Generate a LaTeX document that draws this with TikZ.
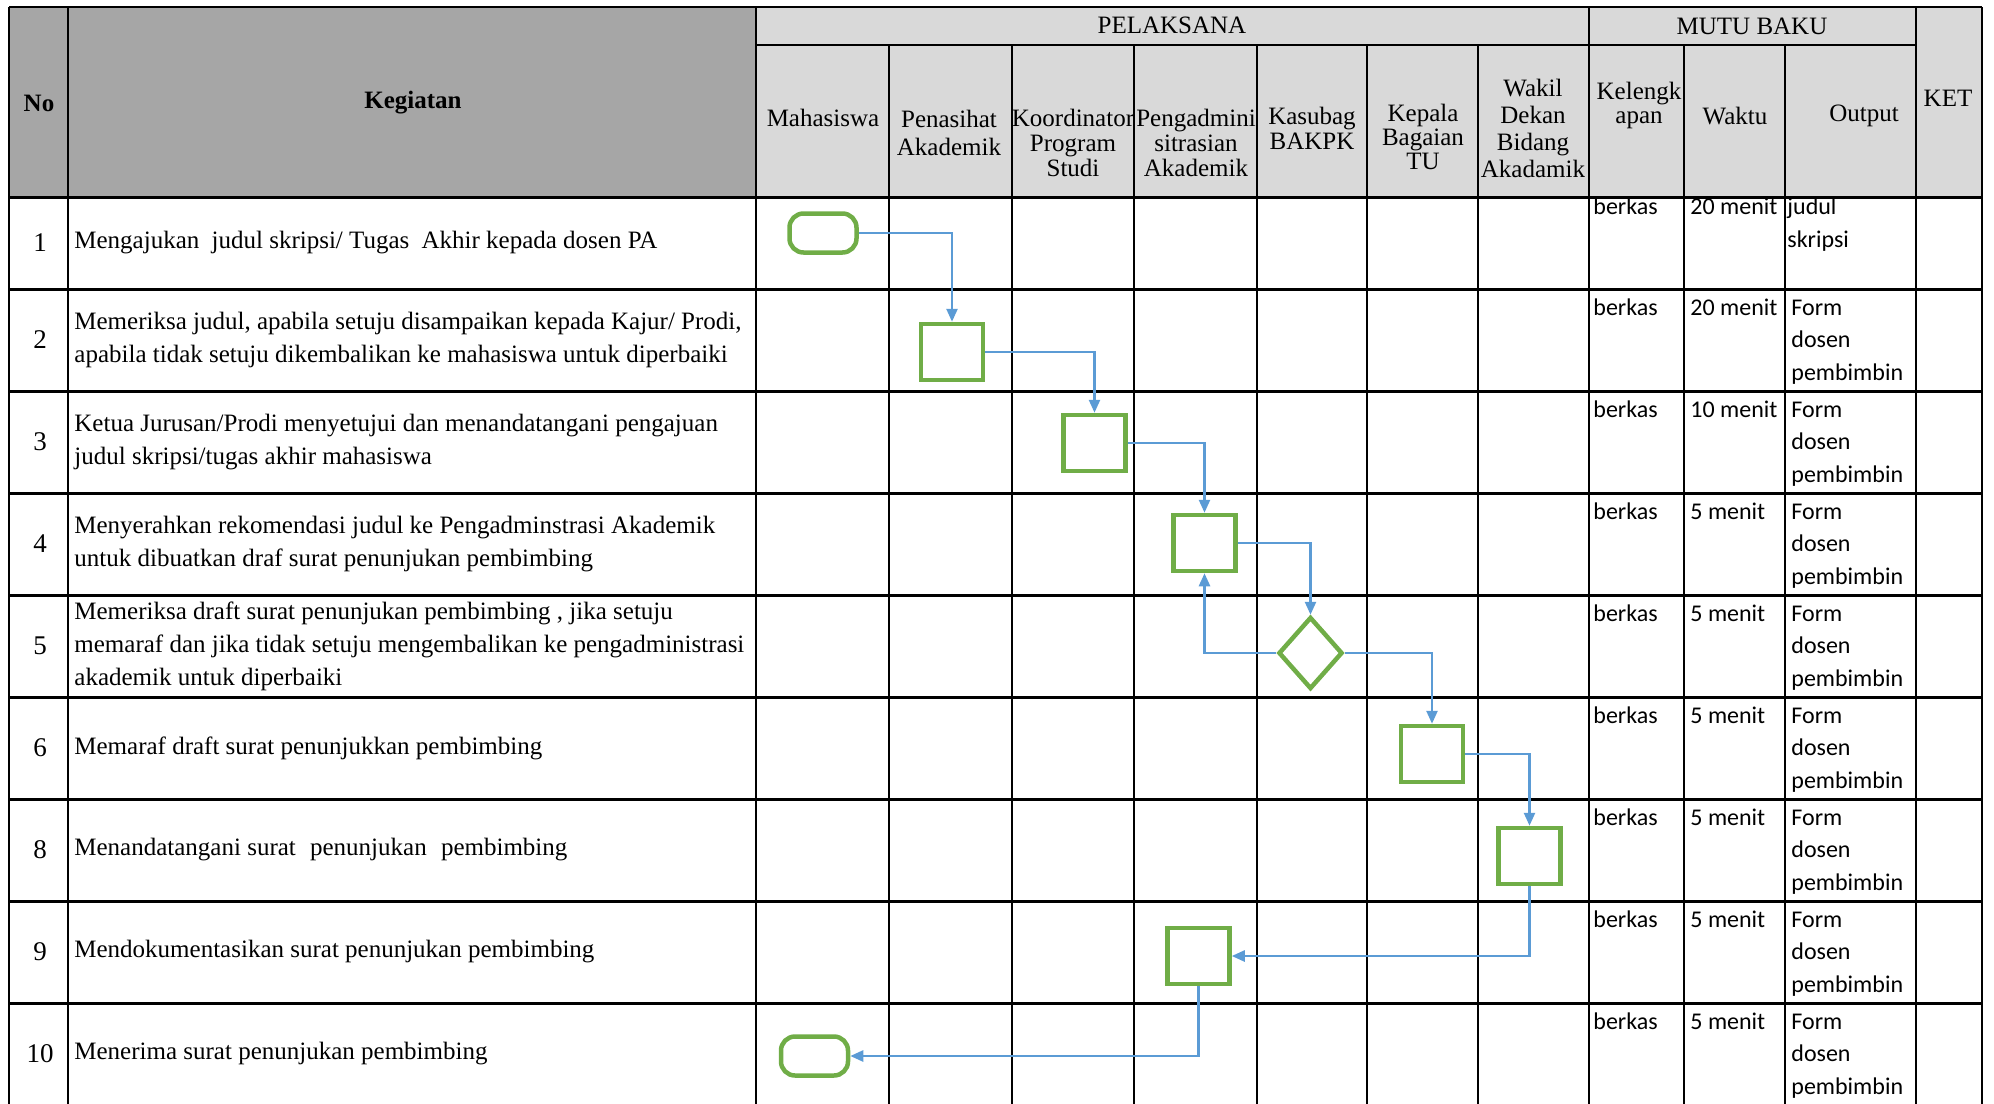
\documentclass[tikz,border=0pt]{standalone}
\usepackage{fontspec}
\setmainfont{Liberation Serif}
\newfontfamily\calib{Carlito}
\usetikzlibrary{shapes.geometric,arrows.meta}

\definecolor{hijau}{HTML}{70AD47}
\definecolor{biru}{HTML}{5B9BD5}
\definecolor{abutua}{HTML}{A6A6A6}
\definecolor{abumuda}{HTML}{D9D9D9}

\tikzstyle{proc} = [rectangle, draw=hijau, line width=2.25pt, minimum width=31pt, minimum height=28pt, inner sep=0pt]
\tikzstyle{term} = [rectangle, rounded corners=7pt, draw=hijau, line width=2.25pt, minimum width=33.5pt, minimum height=19.5pt, inner sep=0pt]
\tikzstyle{dec} = [diamond, draw=hijau, line width=2.25pt, minimum width=32pt, minimum height=36pt, inner sep=0pt]
\tikzstyle{flow} = [draw=biru, line width=1.25pt, -{Triangle[length=6.5pt,width=5.5pt]}]
\tikzstyle{kepala} = [inner sep=0pt, align=center, font=\fontsize{12.5}{12.5}\selectfont]
\tikzstyle{isi} = [inner sep=0pt, align=left, anchor=west, font=\fontsize{12.5}{16.5}\selectfont]
\tikzstyle{nomor} = [inner sep=0pt, font=\fontsize{13.5}{14}\selectfont]
\tikzstyle{mutu} = [inner sep=0pt, anchor=base west, font=\calib\fontsize{12}{14}\selectfont]

\begin{document}
\begin{tikzpicture}[x=0.5pt, y=-0.5pt]
  \useasboundingbox (0,0) rectangle (1994,1104);

  % header
  \fill[abutua] (9,7) rectangle (756,197);
  \fill[abumuda] (756,7) rectangle (1982,197);

  % garis tabel
  \foreach \x in {9,67.7,756,1589,1916,1982}
    \draw[line width=1pt] (\x,7) -- (\x,1104);
  \foreach \x in {889,1011.7,1134,1257,1367,1478,1684,1785}
    \draw[line width=1pt] (\x,45) -- (\x,1104);
  \draw[line width=1.2pt] (9,7) -- (1982,7);
  \draw[line width=1.2pt] (756,45) -- (1916,45);
  \foreach \y in {197,289,391,493,595,697,799,901,1003}
    \draw[line width=1.5pt] (9,\y) -- (1982,\y);

  % judul kolom
  \node[kepala, font=\bfseries\fontsize{12.5}{12}\selectfont] (hno) at (39,103) {No};
  \node[kepala, font=\bfseries\fontsize{12.5}{12}\selectfont] (hkeg) at (413,103) {Kegiatan};
  \node[kepala] (hpel) at (1172,25) {PELAKSANA};
  \node[kepala] (hmutu) at (1752,26) {MUTU BAKU};
  \node[kepala] (hket) at (1948,98) {KET};
  \node[kepala] (hmhs) at (823,118) {Mahasiswa};
  \node[kepala, font=\fontsize{12.5}{14}\selectfont] (hpa) at (949,133) {Penasihat\\Akademik};
  \node[kepala] (hkps) at (1073,143) {Koordinator\\Program\\Studi};
  \node[kepala] (hadm) at (1196,143) {Pengadmini\\sitrasian\\Akademik};
  \node[kepala] (hksb) at (1312,128) {Kasubag\\BAKPK};
  \node[kepala, font=\fontsize{12.5}{9}\selectfont] (htu) at (1423,137) {Kepala\\Bagaian\\TU};
  \node[kepala, font=\fontsize{12.5}{13.5}\selectfont] (hwd) at (1533,128) {Wakil\\Dekan\\Bidang\\Akadamik};
  \node[kepala, font=\fontsize{12.5}{12}\selectfont] (hkel) at (1639,105) {Kelengk\\apan};
  \node[kepala] (hwkt) at (1735,116) {Waktu};
  \node[kepala] (hout) at (1864,116) {Output};

  % nomor
  \foreach \n/\c in {1/243,2/340,3/442,4/544,5/646,6/748,8/850,9/952,10/1054}
    \node[nomor] (no\n) at (40,\c) {\n};

  % kegiatan
  \node[isi] (k1) at (74,243) {Mengajukan\hspace{3pt} judul skripsi/ Tugas\hspace{3pt} Akhir kepada dosen PA};
  \node[isi] (k2) at (74,340) {Memeriksa judul, apabila setuju disampaikan kepada Kajur/ Prodi,\\apabila tidak setuju dikembalikan ke mahasiswa untuk diperbaiki};
  \node[isi] (k3) at (74,442) {Ketua Jurusan/Prodi menyetujui dan menandatangani pengajuan\\judul skripsi/tugas akhir mahasiswa};
  \node[isi] (k4) at (74,544) {Menyerahkan rekomendasi judul ke Pengadminstrasi Akademik\\untuk dibuatkan draf surat penunjukan pembimbing};
  \node[isi] (k5) at (74,646) {Memeriksa draft surat penunjukan pembimbing , jika setuju\\memaraf dan jika tidak setuju mengembalikan ke pengadministrasi\\akademik untuk diperbaiki};
  \node[isi] (k6) at (74,748) {Memaraf draft surat penunjukkan pembimbing};
  \node[isi] (k8) at (74,850) {Menandatangani surat\hspace{4pt} penunjukan\hspace{4pt} pembimbing};
  \node[isi] (k9) at (74,952) {Mendokumentasikan surat penunjukan pembimbing};
  \node[isi] (k10) at (74,1054) {Menerima surat penunjukan pembimbing};

  % mutu baku
  \node[mutu] (kel1) at (1593,214) {berkas};
  \node[mutu] (wkt1) at (1690,214) {20 menit};
  \node[mutu] (out1) at (1787,214) {judul};
  \node[mutu] (outb1) at (1787,247) {skripsi};
  \foreach \n/\t/\w in {2/289/20,3/391/10,4/493/5,5/595/5,6/697/5,8/799/5,9/901/5,10/1003/5} {
    \node[mutu] (kel\n) at (1593,{\t+26}) {berkas};
    \node[mutu] (wkt\n) at (1690,{\t+26}) {\w\ menit};
    \node[mutu] (out\n) at (1791,{\t+26}) {Form};
    \node[mutu] (outb\n) at (1791,{\t+58.5}) {dosen};
    \node[mutu] (outc\n) at (1791,{\t+91}) {pembimbin};
  }

  % bagan alir
  \node[term] (t1) at (823,233) {};
  \node[proc] (p2) at (952,352) {};
  \node[proc] (p3) at (1094.5,443) {};
  \node[proc] (p4) at (1204.5,543) {};
  \node[dec] (d5) at (1310.5,653) {};
  \node[proc] (p6) at (1432,754) {};
  \node[proc] (p8) at (1529.5,856) {};
  \node[proc] (p9) at (1198.5,956) {};
  \node[term] (t10) at (814.5,1056) {};

  \draw[flow] (t1.east) -| (p2.north);
  \draw[flow] (p2.east) -| (p3.north);
  \draw[flow] (p3.east) -| (p4.north);
  \draw[flow] (p4.east) -| (d5.north);
  \draw[flow] (d5.west) -| (p4.south);
  \draw[flow] (d5.east) -| (p6.north);
  \draw[flow] (p6.east) -| (p8.north);
  \draw[flow] (p8.south) |- (p9.east);
  \draw[flow] (p9.south) |- (t10.east);
\end{tikzpicture}
\end{document}
